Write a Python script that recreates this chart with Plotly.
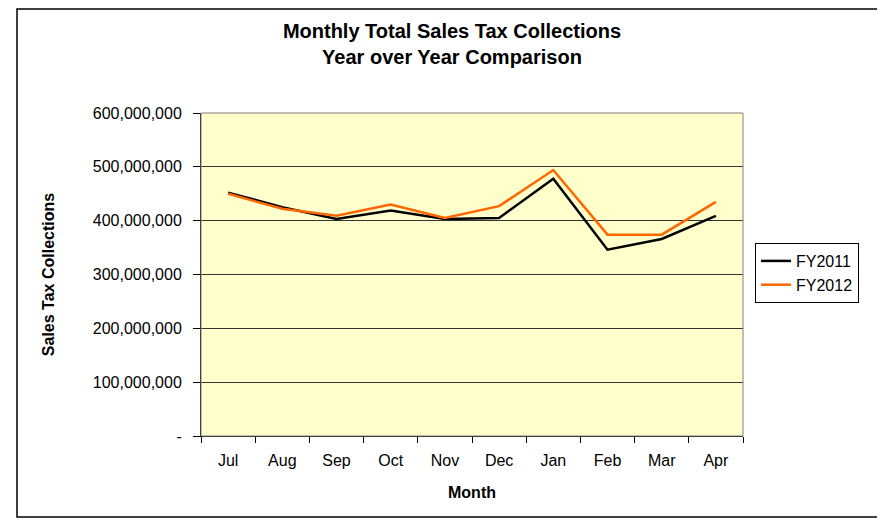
import plotly.graph_objects as go

meses = ['Jul', 'Aug', 'Sep', 'Oct', 'Nov', 'Dec', 'Jan', 'Feb', 'Mar', 'Apr']
fy2011 = [452e6, 425e6, 403e6, 419e6, 403e6, 405e6, 478e6, 346e6, 366e6, 409e6]
fy2012 = [450e6, 422e6, 409e6, 430e6, 405e6, 427e6, 494e6, 374e6, 374e6, 435e6]

y_ticks = [0, 100e6, 200e6, 300e6, 400e6, 500e6, 600e6]
y_labels = ['-', '100,000,000', '200,000,000', '300,000,000', '400,000,000', '500,000,000', '600,000,000']

fuente = "Arial, Liberation Sans, sans-serif"

# la pagina tiene un margen de 8px, por eso la figura mide 877x512
W, H = 877, 512
L, R, T, B = 193, 142, 105, 84
pw, ph = W - L - R, H - T - B

fig = go.Figure()
fig.add_trace(go.Scatter(x=meses, y=fy2011, name='FY2011', mode='lines',
                         line=dict(color='black', width=2.5)))
fig.add_trace(go.Scatter(x=meses, y=fy2012, name='FY2012', mode='lines',
                         line=dict(color='#FF6600', width=2.5)))

fig.update_layout(
    width=W, height=H,
    margin=dict(l=L, r=R, t=T, b=B, autoexpand=False),
    paper_bgcolor='white',
    plot_bgcolor='#FFFFCC',
    font=dict(family=fuente, size=16, color='black'),
    title=dict(text='<b>Monthly Total Sales Tax Collections<br>Year over Year Comparison</b>',
               x=444 / W, xanchor='center', y=1 - 30 / H, yanchor='middle',
               font=dict(size=20, family=fuente)),
    legend=dict(x=(747 - L) / pw, y=(T + ph - 235) / ph, xanchor='left', yanchor='top',
                bordercolor='black', borderwidth=1, bgcolor='white',
                font=dict(size=16), tracegroupgap=0),
    showlegend=True,
)

fig.update_xaxes(
    type='category', tickson='boundaries', ticks='outside', ticklen=6,
    tickcolor='black', showline=True, linecolor='black', linewidth=1,
    showgrid=False, tickfont=dict(size=16), ticklabelstandoff=10,
    title=dict(text='<b>Month</b>', font=dict(size=16), standoff=18),
    range=[-0.5, 9.5],
)
fig.update_yaxes(
    range=[0, 600e6], tickvals=y_ticks, ticktext=y_labels,
    ticks='outside', ticklen=7, tickcolor='black',
    showline=True, linecolor='black', linewidth=1,
    showgrid=True, gridcolor='#333333', gridwidth=1,
    tickfont=dict(size=16), zeroline=False, ticklabelstandoff=8,
    title=dict(text='<b>Sales Tax Collections</b>', font=dict(size=16), standoff=34),
)

# borde gris del area de trazado
fig.add_shape(type='rect', xref='paper', yref='paper', x0=0, x1=1, y0=0, y1=1,
              line=dict(color='#808080', width=1), layer='above')
# borde exterior del grafico
fig.add_shape(type='rect', xref='paper', yref='paper',
              x0=(9 - L) / pw, x1=(875 - L) / pw,
              y0=(T + ph - 509) / ph, y1=(T + ph - 1) / ph,
              line=dict(color='black', width=1.5))

fig.write_html("out.html")
